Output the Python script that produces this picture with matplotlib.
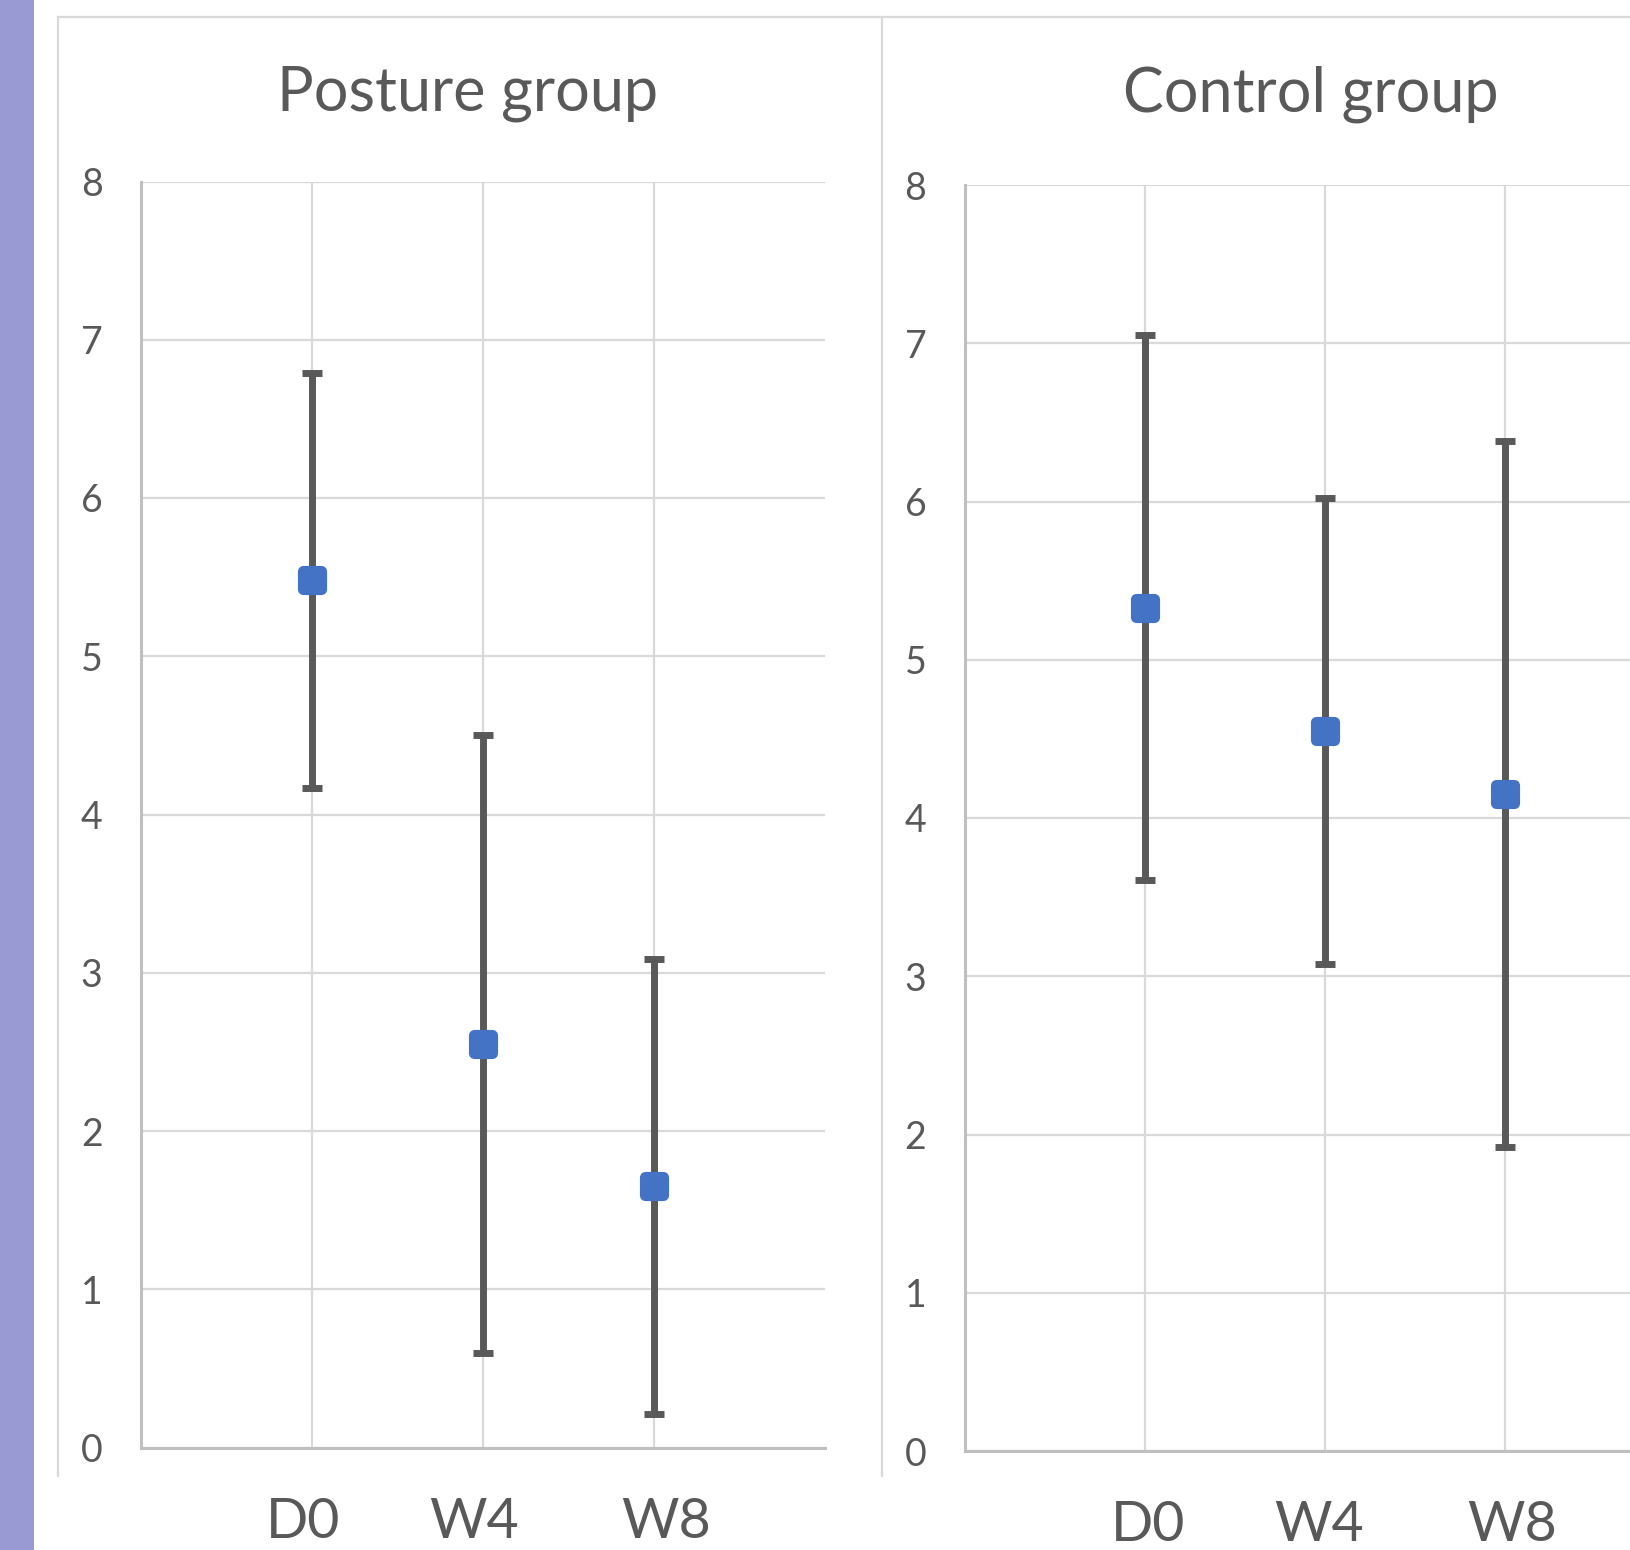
import matplotlib
matplotlib.use("Agg")
import matplotlib.pyplot as plt
from matplotlib.path import Path
from matplotlib.lines import Line2D
from matplotlib.patches import Rectangle
from matplotlib.transforms import blended_transform_factory, offset_copy

plt.rcParams['font.family'] = ['Lato', 'DejaVu Sans']

categories = ["D0", "W4", "W8"]
x_pos = [1, 2, 3]
y_ticks = [0, 1, 2, 3, 4, 5, 6, 7, 8]

posture_title = "Posture group"
posture_mean = [5.48, 2.55, 1.65]
posture_err = [1.31, 1.95, 1.44]

control_title = "Control group"
control_mean = [5.33, 4.55, 4.15]
control_err = [1.72, 1.47, 2.23]

W, H = 1631, 1550
fig = plt.figure(figsize=(W / 100, H / 100), dpi=100)
fig.patch.set_facecolor("white")

TEXT = "#595959"
GRID = "#D9D9D9"
AXIS = "#BFBFBF"
BLUE = "#4472C4"
BAR = "#595959"

# rounded square marker
r = 0.4
verts = [(-1 + r, -1), (1 - r, -1), (1, -1), (1, -1 + r), (1, 1 - r), (1, 1),
         (1 - r, 1), (-1 + r, 1), (-1, 1), (-1, 1 - r), (-1, -1 + r), (-1, -1),
         (-1 + r, -1), (0, 0)]
codes = [Path.MOVETO, Path.LINETO, Path.CURVE3, Path.CURVE3, Path.LINETO,
         Path.CURVE3, Path.CURVE3, Path.LINETO, Path.CURVE3, Path.CURVE3,
         Path.LINETO, Path.CURVE3, Path.CURVE3, Path.CLOSEPOLY]
rsq = Path(verts, codes)


def px(x, y):
    return x / W, 1 - y / H


# decorations: purple strip and chart frames
fig.patches.append(Rectangle((0, 0), 34 / W, 1, transform=fig.transFigure,
                             facecolor="#9999D3", edgecolor="none", zorder=0))
for (x0, y0, x1, y1) in [(58, 17, W, 17), (58, 17, 58, 1476), (882, 17, 882, 1476)]:
    a, b = px(x0, y0)
    c, d = px(x1, y1)
    fig.lines.append(Line2D([a, c], [b, d], transform=fig.transFigure,
                            color=GRID, lw=1.6, zorder=0))


def make_panel(rect, title, mean, err, title_x, label_shift):
    ax = fig.add_axes(rect)
    ax.set_xlim(0, 4)
    ax.set_ylim(0, 8)
    ax.set_yticks(y_ticks)
    ax.set_xticks(x_pos)
    ax.set_xticklabels([])
    ax.grid(True, color=GRID, lw=1.6, zorder=0)
    ax.set_axisbelow(True)
    for s in ["top", "right"]:
        ax.spines[s].set_visible(False)
    for s in ["left", "bottom"]:
        ax.spines[s].set_color(AXIS)
        ax.spines[s].set_linewidth(2.2)
    ax.tick_params(axis="y", length=0, pad=28, labelsize=27, labelcolor=TEXT)
    ax.tick_params(axis="x", length=0)
    ax.errorbar(x_pos, mean, yerr=err, fmt="none", ecolor=BAR, elinewidth=5,
                capsize=7, capthick=5, zorder=3)
    ax.plot(x_pos, mean, linestyle="none", marker=rsq, markersize=20,
            markerfacecolor=BLUE, markeredgecolor=BLUE, zorder=4)
    trans = blended_transform_factory(ax.transData, ax.transAxes)
    for xp, lab, sh in zip(x_pos, categories, label_shift):
        t = offset_copy(trans, fig=fig, x=sh, y=-49, units="dots")
        ax.text(xp, 0, lab, transform=t, ha="center", va="top",
                fontsize=40, color=TEXT, clip_on=False)
    tx, ty = px(title_x, 94)
    fig.text(tx, ty, title, ha="center", va="center", fontsize=44, color=TEXT)
    return ax


make_panel([141.5 / W, (H - 1447.5) / H, 683 / W, 1266 / H],
           posture_title, posture_mean, posture_err, 468, [-9, -9, 12])
make_panel([965.3 / W, (H - 1451) / H, 720 / W, 1266 / H],
           control_title, control_mean, control_err, 1311, [3, -6, 7])

fig.savefig("out.png", dpi=100, facecolor="white")
